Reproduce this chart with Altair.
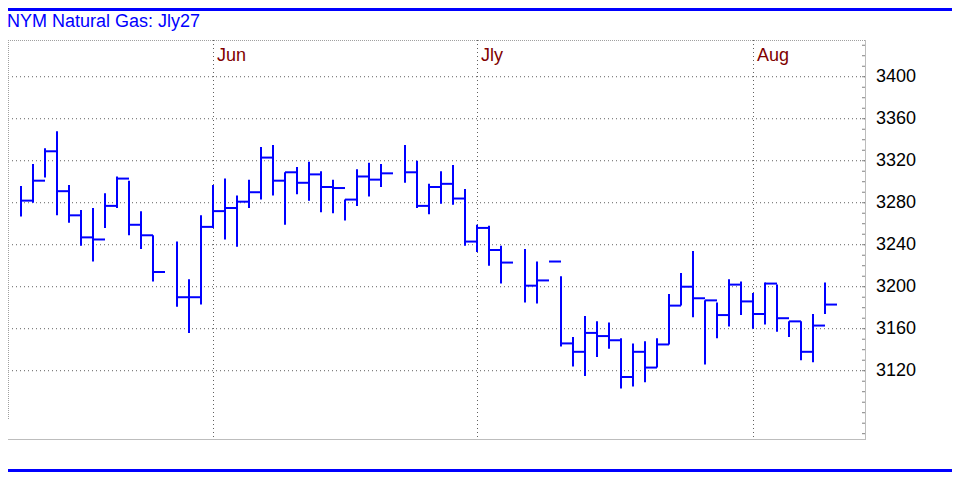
import altair as alt
import pandas as pd

FONT = "Liberation Sans, Arial, sans-serif"
BLUE = "#0000ff"

# trading-day index of each bar (gaps = days with no bar)
idx = [0, 1, 2, 3, 4, 5, 6, 7, 8, 9, 10, 11,
       13, 14, 15, 16, 17, 18, 19, 20, 21, 22, 23, 24, 25, 26, 27, 28, 29, 30,
       32, 33, 34, 35, 36, 37, 38, 39, 40,
       42, 43, 44, 45, 46, 47, 48, 49, 50, 51, 52, 53, 54, 55, 56, 57, 58, 59,
       60, 61, 62, 63, 64, 65, 66, 67]
high = [3296, 3317, 3332, 3348, 3297, 3273, 3275, 3289, 3305, 3301, 3272, 3249,
        3243, 3207, 3268, 3297, 3303, 3287, 3302, 3333, 3335, 3309, 3314, 3319, 3310, 3302, 3283, 3312, 3318, 3317,
        3335, 3320, 3298, 3310, 3316, 3293, 3259, 3258, 3239,
        3236, 3224, 3224, 3210, 3152, 3172, 3167, 3166, 3151, 3146, 3148, 3151, 3193, 3213, 3234, 3187, 3185, 3207,
        3205, 3194, 3204, 3202, 3167, 3167, 3174, 3204]
low = [3267, 3280, 3304, 3268, 3261, 3239, 3224, 3256, 3275, 3249, 3236, 3205,
       3181, 3156, 3183, 3256, 3245, 3238, 3275, 3283, 3287, 3259, 3288, 3282, 3271, 3270, 3263, 3277, 3286, 3295,
       3299, 3275, 3269, 3279, 3278, 3239, 3233, 3220, 3203,
       3185, 3184, 3224, 3143, 3124, 3115, 3133, 3141, 3103, 3105, 3109, 3123, 3145, 3182, 3171, 3126, 3151, 3162,
       3173, 3160, 3164, 3157, 3152, 3130, 3128, 3174]
close = [3282, 3301, 3329, 3291, 3268, 3247, 3245, 3277, 3303, 3259, 3249, 3214,
         3190, 3190, 3257, 3272, 3275, 3281, 3290, 3323, 3301, 3309, 3299, 3307, 3295, 3294, 3283, 3305, 3302, 3308,
         3309, 3277, 3295, 3298, 3284, 3243, 3256, 3235, 3223,
         3201, 3206, 3224, 3146, 3138, 3156, 3153, 3149, 3114, 3138, 3123, 3145, 3182, 3200, 3189, 3187, 3173, 3202,
         3186, 3174, 3203, 3170, 3167, 3138, 3163, 3183]

month_labels = ["Jun", "Jly", "Aug"]
month_idx = [16, 38, 61]
y_labels = [3120, 3160, 3200, 3240, 3280, 3320, 3360, 3400]
minor_ticks = list(range(3060, 3431, 10))

bars = pd.DataFrame({"i": idx, "high": high, "low": low, "close": close})
months = pd.DataFrame({"i": month_idx, "label": month_labels})
ticks = pd.DataFrame({"v": minor_ticks})
ylab = pd.DataFrame({"v": y_labels, "t": [str(v) for v in y_labels]})
one = pd.DataFrame({"k": [0]})

W, H = 858, 400
x0 = -13 / 12
xs = alt.Scale(domain=[x0, x0 + W / 12], nice=False, zero=False)
ys = alt.Scale(domain=[3054, 3435], nice=False, zero=False)

X = lambda f: alt.X(f, scale=xs, axis=None)
Y = lambda f: alt.Y(f, scale=ys, axis=None)

hgrid = alt.Chart(ylab).mark_rule(color="#606060", strokeDash=[1, 3], strokeWidth=1).encode(
    y=Y("v:Q"), x=alt.value(0), x2=alt.value(857))
ytext = alt.Chart(ylab).mark_text(align="left", baseline="middle", fontSize=18,
                                  font=FONT, color="#000000").encode(
    y=Y("v:Q"), x=alt.value(868), text="t:N")

hl = alt.Chart(bars).mark_rule(color=BLUE, strokeWidth=2).encode(
    x=X("i:Q"), y=Y("low:Q"), y2="high:Q")
cl = alt.Chart(bars).transform_calculate(nxt="datum.i + 1").mark_rule(
    color=BLUE, strokeWidth=2).encode(
    x=X("i:Q"), x2="nxt:Q", y=Y("close:Q"))

vgrid = alt.Chart(months).mark_rule(color="#606060", strokeDash=[1, 3], strokeWidth=1,
                                    xOffset=0.5).encode(
    x=X("i:Q"), y=alt.value(0), y2=alt.value(H))
mlab = alt.Chart(months).mark_text(align="left", baseline="alphabetic", dx=4,
                                   fontSize=18, font=FONT, color="#800000").encode(
    x=X("i:Q"), y=alt.value(21), text="label:N")

minor = alt.Chart(ticks).mark_rule(color="#808080", strokeWidth=1).encode(
    y=Y("v:Q"), x=alt.value(854), x2=alt.value(857))

top_b = alt.Chart(one).mark_rule(color="#a0a0a0", strokeDash=[1, 1], strokeWidth=1).encode(
    x=alt.value(0), x2=alt.value(857), y=alt.value(0.5))
left_b = alt.Chart(one).mark_rule(color="#a0a0a0", strokeDash=[1, 1], strokeWidth=1).encode(
    x=alt.value(0.5), y=alt.value(0), y2=alt.value(380))
right_b = alt.Chart(one).mark_rule(color="#bdbdbd", strokeWidth=1).encode(
    x=alt.value(857.5), y=alt.value(0), y2=alt.value(H))
bot_b = alt.Chart(one).mark_rule(color="#bdbdbd", strokeWidth=1).encode(
    x=alt.value(0), x2=alt.value(858), y=alt.value(H - 0.5))

title = alt.Chart(one).mark_text(text="NYM Natural Gas: Jly27", align="left",
                                 baseline="alphabetic", fontSize=18, font=FONT,
                                 color=BLUE).encode(x=alt.value(-1), y=alt.value(-13))
blue_top = alt.Chart(one).mark_rule(color=BLUE, strokeWidth=3).encode(
    x=alt.value(0), x2=alt.value(944), y=alt.value(-30.5))
blue_bot = alt.Chart(one).mark_rule(color=BLUE, strokeWidth=3).encode(
    x=alt.value(0), x2=alt.value(944), y=alt.value(430.5))

chart = alt.layer(
    hgrid, vgrid, top_b, left_b, right_b, bot_b, minor, hl, cl, mlab, ytext,
    title, blue_top, blue_bot
).properties(
    width=W, height=H,
    padding={"left": 0, "top": 32, "right": 86, "bottom": 32},
    autosize=alt.AutoSizeParams(type="none"),
    background="white",
).configure_view(stroke=None)

chart.save("out.html", embed_options={"renderer": "svg", "actions": False})
